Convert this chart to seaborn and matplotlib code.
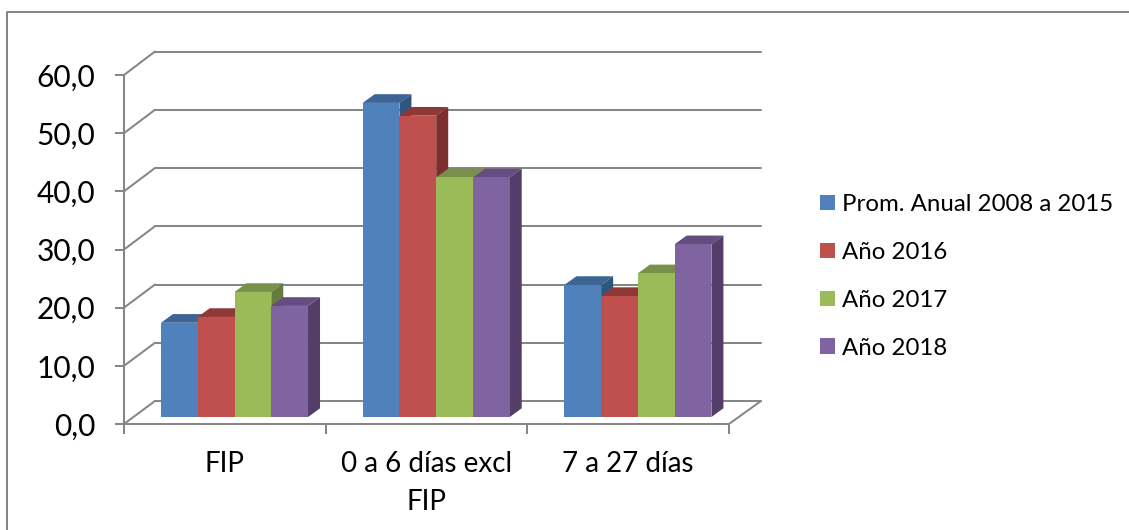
import pandas as pd
import matplotlib
matplotlib.use("Agg")
import matplotlib.pyplot as plt
from matplotlib.lines import Line2D
from matplotlib.patches import ConnectionPatch, Polygon
import seaborn as sns

# values
categories = ["FIP", "0 a 6 días excl\nFIP", "7 a 27 días"]
series_names = ["Prom. Anual 2008 a 2015", "Año 2016", "Año 2017", "Año 2018"]
prom_values = [16.2, 54.0, 22.7]
y2016_values = [17.2, 51.8, 20.8]
y2017_values = [21.5, 41.2, 24.7]
y2018_values = [19.1, 41.2, 29.7]
y_ticks = [0, 10, 20, 30, 40, 50, 60]

front_colors = ["#4F81BD", "#C0504D", "#9BBB59", "#8064A2"]
top_colors = ["#3D6594", "#8F3937", "#79904A", "#644D80"]
side_colors = ["#30557F", "#7C2F2D", "#667B3C", "#553D6A"]
line_color = "#868686"
line_width = 1.45

W, H = 1129, 530


def px_axes(fig, left, top, right, bottom, zorder):
    # axes placed by pixel box of the reference
    ax = fig.add_axes([left / W, 1 - bottom / H, (right - left) / W, (bottom - top) / H])
    ax.set_zorder(zorder)
    ax.patch.set_visible(False)
    ax.set_xlim(-0.5, 2.5)
    ax.set_ylim(0, 60)
    return ax


df = pd.DataFrame({"categoria": categories,
                   series_names[0]: prom_values,
                   series_names[1]: y2016_values,
                   series_names[2]: y2017_values,
                   series_names[3]: y2018_values})
df = df.melt(id_vars="categoria", var_name="serie", value_name="valor")

sns.set_theme(style="white")
plt.rcParams["font.family"] = ["Lato", "DejaVu Sans"]

fig = plt.figure(figsize=(W / 100, H / 100), dpi=100)

# outer frame of the chart, only top and left are inside the picture
fig.add_artist(Line2D([6.5 / W, 6.5 / W, 1], [0, 1 - 12 / H, 1 - 12 / H], transform=fig.transFigure,
                      color=line_color, linewidth=line_width))

# back wall: only the horizontal grid
back = px_axes(fig, 155, 51.5, 761, 401, 1)
back.set_yticks(y_ticks)
back.set_xticks([])
back.tick_params(left=False, labelleft=False)
back.grid(axis="y", color=line_color, linewidth=line_width, clip_on=False)
back.set_axisbelow(True)
sns.despine(ax=back, left=True, bottom=True)

# front plane: the real axes with ticks and labels
front = px_axes(fig, 124, 75, 729, 424, 2)
front.set_yticks(y_ticks)
front.set_yticklabels([f"{v:.1f}".replace(".", ",") for v in y_ticks], fontsize=21.5, color="black")
front.set_xticks(range(len(categories)))
front.set_xticklabels(categories, fontsize=20, color="black", linespacing=1.55)
front.set_xticks([-0.5, 0.5, 1.5, 2.5], minor=True)
front.tick_params(axis="x", which="major", length=0, pad=19.5)
front.tick_params(axis="x", which="minor", length=7.2, width=line_width, color=line_color, direction="out", bottom=True)
front.tick_params(axis="y", length=6.5, width=line_width, color=line_color, left=True, pad=14)
sns.despine(ax=front)
for side in ["left", "bottom"]:
    front.spines[side].set_color(line_color)
    front.spines[side].set_linewidth(line_width)

# depth lines from the front plane to the back wall
for v in y_ticks:
    back.add_artist(ConnectionPatch(xyA=(-0.5, v), coordsA=front.transData, xyB=(-0.5, v), coordsB=back.transData,
                                    color=line_color, linewidth=line_width))
back.add_artist(ConnectionPatch(xyA=(2.5, 0), coordsA=front.transData, xyB=(2.5, 0), coordsB=back.transData,
                                color=line_color, linewidth=line_width))

# bars
ax = px_axes(fig, 133.65, 68, 738.75, 417, 3)
sns.barplot(data=df, x="categoria", y="valor", hue="serie", order=categories, hue_order=series_names,
            palette=front_colors, width=0.729, gap=0, saturation=1, legend=False, ax=ax)
ax.set_xlim(-0.5, 2.5)
ax.set_ylim(0, 60)
ax.set_xlabel("")
ax.set_ylabel("")
ax.set_xticks([])
ax.set_yticks([])
sns.despine(ax=ax, left=True, bottom=True)

# top and side faces of each bar, depth of 12 x 8.7 px
dx = 12 / 201.7
dy = 8.7 / (349 / 60)
handles = []
for j, container in enumerate(ax.containers):
    for bar in container:
        x0, w, h = bar.get_x(), bar.get_width(), bar.get_height()
        x1 = x0 + w
        bar.set_linewidth(0)
        # later bars cover the side of the earlier ones
        z = 2 + j
        bar.set_zorder(z + 0.2)
        ax.add_patch(Polygon([(x0, h), (x1, h), (x1 + dx, h + dy), (x0 + dx, h + dy)],
                             facecolor=top_colors[j], linewidth=0, zorder=z))
        ax.add_patch(Polygon([(x1, 0), (x1 + dx, dy), (x1 + dx, h + dy), (x1, h)],
                             facecolor=side_colors[j], linewidth=0, zorder=z))
    handles.append(container[0])

fig.legend(handles, series_names, loc="upper left", bbox_to_anchor=(820 / W, 1 - 194 / H),
           frameon=False, fontsize=17.3, labelcolor="black", handlelength=0.62, handleheight=0.62,
           handletextpad=0.29, labelspacing=1.12, borderpad=0, borderaxespad=0)

fig.savefig("out.png", dpi=100)
